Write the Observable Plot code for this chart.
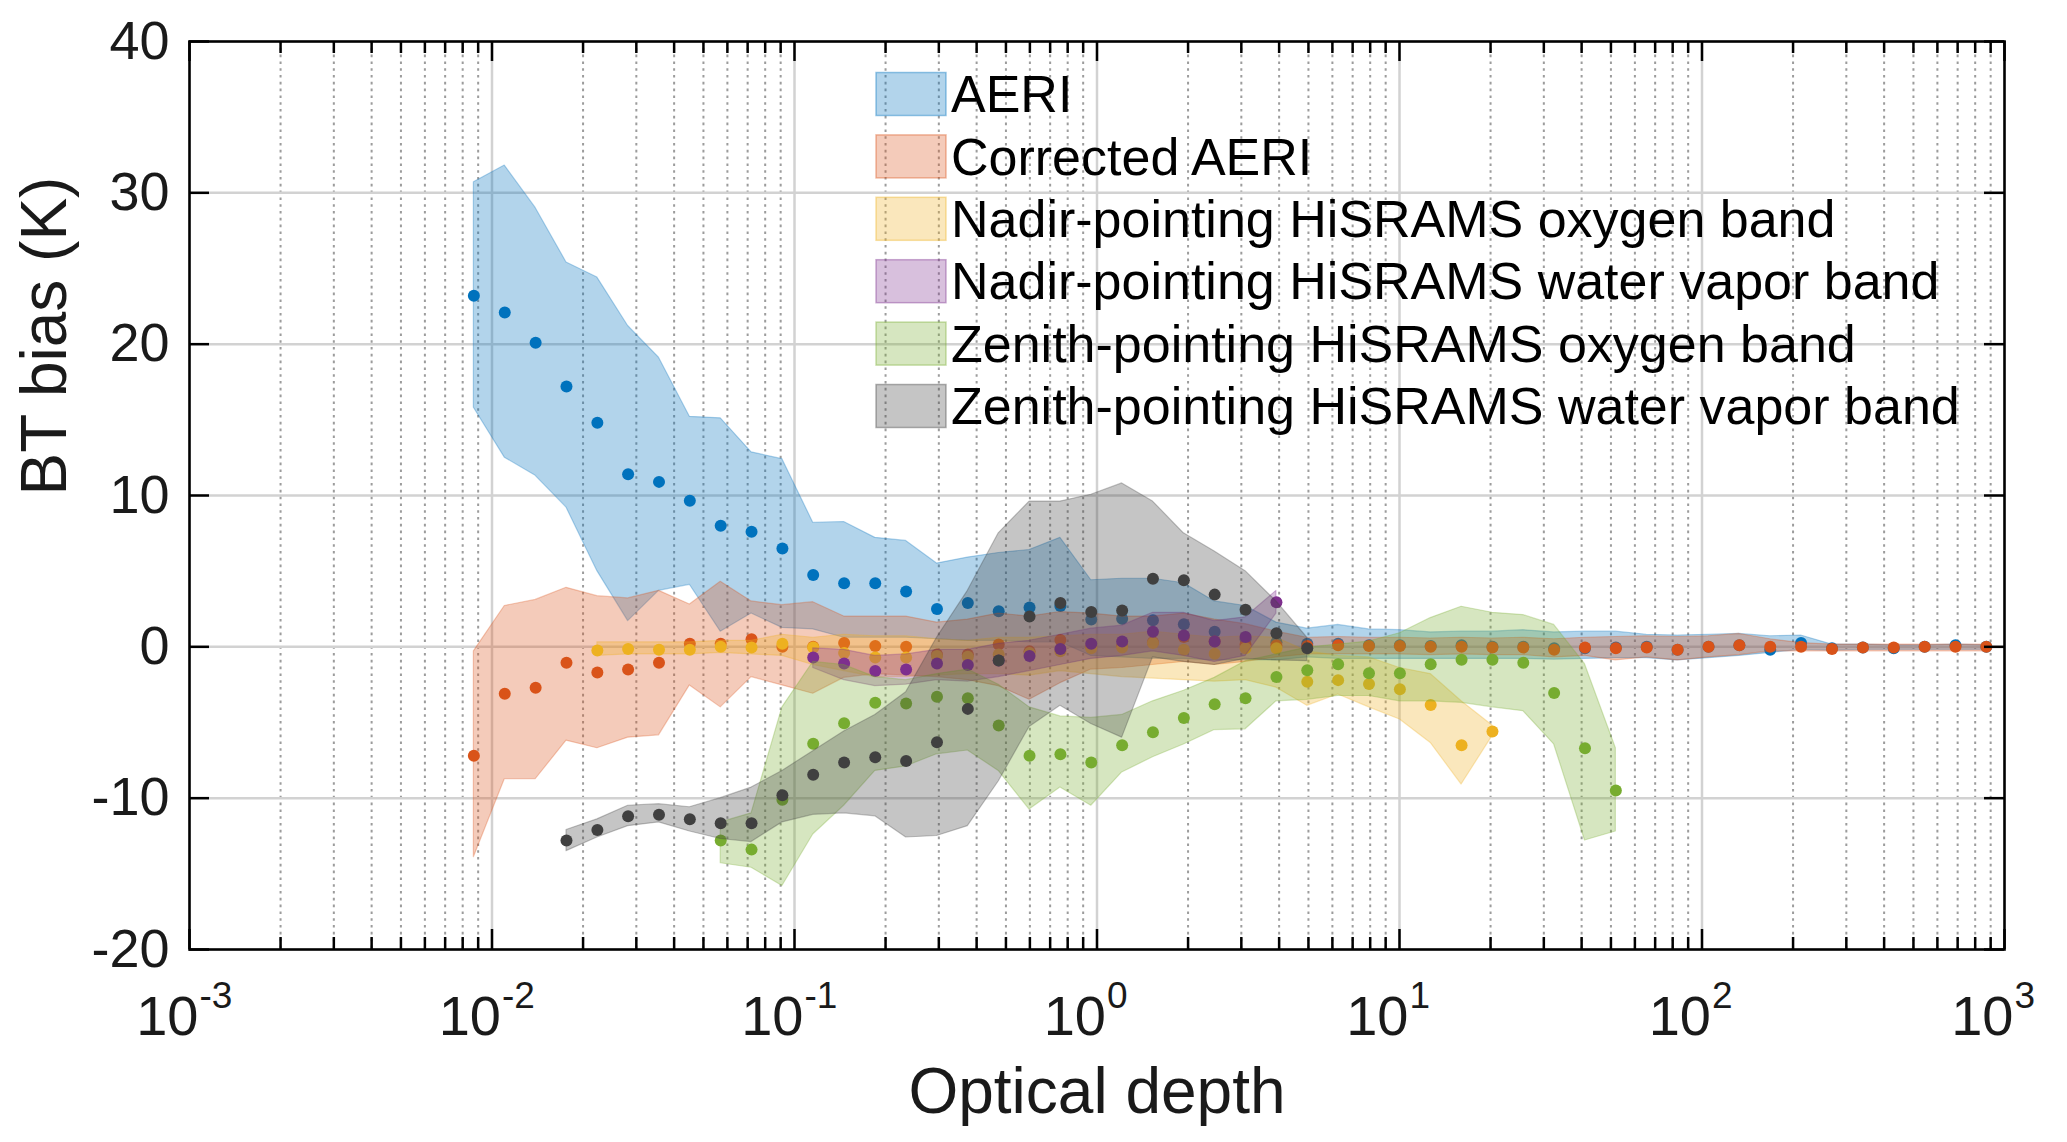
<!DOCTYPE html>
<html>
<head>
<meta charset="utf-8">
<script src="https://cdn.jsdelivr.net/npm/d3@7"></script>
<script src="https://cdn.jsdelivr.net/npm/@observablehq/plot@0.6"></script>
<style>
  html, body { margin: 0; padding: 0; background: #fff; }
  #chart svg { display: block; }
</style>
</head>
<body>
<div id="chart"></div>
<script>
// optical depth bin centres (shared by every series)
const opticalDepth = [0.00871, 0.01102, 0.01394, 0.01763, 0.0223, 0.02818, 0.03565, 0.04508, 0.05702, 0.07211,
  0.0912, 0.1153, 0.1459, 0.1849, 0.2339, 0.2958, 0.3741, 0.4732, 0.5984, 0.7568,
  0.9572, 1.211, 1.531, 1.937, 2.449, 3.098, 3.919, 4.956, 6.268, 7.928,
  10.03, 12.68, 16.04, 20.29, 25.66, 32.45, 41.04, 51.91, 65.66, 83.05,
  105.1, 132.9, 168.1, 212.6, 269.0, 340.3, 430.4, 544.5, 688.7, 871.0];

// AERI (from bin 0)
const aeriMean = [23.2, 22.1, 20.1, 17.2, 14.8, 11.4, 10.9, 9.65, 8.0, 7.6, 6.5, 4.75, 4.2, 4.2, 3.65, 2.5, 2.9, 2.35, 2.6, 2.7,
  1.8, 1.85, 1.75, 1.5, 1.0, 0.5, 0.3, 0.2, 0.2, 0.1, 0.1, 0.05, 0.1, 0.0, 0.0, -0.1, -0.1, -0.05, 0.0, -0.2,
  0.0, 0.1, -0.2, 0.25, -0.1, -0.05, -0.1, 0.0, 0.1, 0.0];
const aeriLow = [15.8, 12.5, 11.3, 9.2, 5.0, 1.7, 3.7, 4.1, 1.0, 2.2, 1.25, 1.15, 0.6, 0.6, 0.6, 0.5, 0.4, 0.4, 0.3, 0.3,
  -0.6, -0.7, -0.8, -0.8, -0.9, -0.9, -0.9, -0.7, -0.8, -0.8, -0.8, -0.8, -0.8, -0.8, -0.8, -0.85, -0.8, -0.75, -0.75, -0.9,
  -0.75, -0.6, -0.4, -0.2, -0.25, -0.2, -0.2, -0.2, -0.2, -0.2];
const aeriHigh = [30.7, 31.8, 29.0, 25.4, 24.4, 21.2, 19.1, 15.2, 15.1, 12.85, 12.4, 8.2, 8.25, 7.2, 7.0, 5.5, 5.9, 6.2, 6.4, 7.2,
  4.4, 4.5, 4.5, 4.2, 3.0, 2.7, 1.6, 1.2, 1.45, 1.15, 1.1, 0.95, 1.0, 1.0, 1.1, 0.95, 1.0, 1.0, 0.8, 0.75,
  0.8, 0.85, 0.7, 0.75, 0.15, 0.15, 0.1, 0.1, 0.15, 0.1];

// Corrected AERI (from bin 0)
const corrMean = [-7.2, -3.1, -2.7, -1.05, -1.7, -1.5, -1.05, 0.2, 0.2, 0.5, 0.0, 0.0, 0.25, 0.05, 0.0, -0.5, -0.5, 0.15, -0.3, 0.45,
  0.0, 0.05, 0.3, 0.65, 0.35, 0.15, 0.1, 0.05, 0.1, 0.05, 0.05, 0.0, 0.0, -0.05, -0.05, -0.2, -0.05, -0.1, -0.05, -0.2,
  0.0, 0.1, 0.0, 0.0, -0.15, -0.05, -0.05, 0.0, 0.0, 0.0];
const corrLow = [-13.9, -8.75, -8.75, -6.2, -6.7, -6.0, -5.85, -2.55, -4.0, -2.0, -2.55, -3.1, -2.05, -1.8, -1.9, -2.0, -2.2, -2.6, -3.5, -2.4,
  -1.5, -1.4, -1.2, -1.0, -1.2, -1.0, -0.7, -0.5, -0.5, -0.5, -0.5, -0.55, -0.5, -0.55, -0.55, -0.7, -0.6, -0.9, -0.7, -0.9,
  -0.7, -0.55, -0.3, -0.3, -0.3, -0.3, -0.3, -0.3, -0.3, -0.3];
const corrHigh = [-0.3, 2.7, 3.1, 3.9, 3.35, 3.2, 3.7, 2.8, 4.3, 3.0, 2.75, 2.95, 2.0, 2.0, 2.0, 1.6, 1.8, 2.2, 2.0, 2.3,
  2.2, 2.0, 2.0, 2.2, 1.8, 1.5, 1.0, 0.6, 0.65, 0.6, 0.6, 0.55, 0.6, 0.55, 0.6, 0.5, 0.6, 0.65, 0.7, 0.65,
  0.7, 0.85, 0.5, 0.25, 0.15, 0.15, 0.15, 0.15, 0.15, 0.15];

// Nadir-pointing HiSRAMS oxygen band (from bin 4)
const nadirO2Mean = [-0.25, -0.15, -0.2, -0.2, 0.0, -0.05, 0.2, -0.05, -0.4, -0.7, -0.7, -0.6, -0.65, -0.5, -0.4, -0.3,
  -0.1, -0.05, 0.25, -0.2, -0.45, -0.1, -0.1, -2.3, -2.2, -2.45, -2.8, -3.85, -6.5, -5.6];
const nadirO2Low = [-0.6, -0.5, -0.5, -0.5, -0.4, -0.5, -0.6, -1.2, -1.6, -2.0, -2.0, -1.9, -1.8, -1.8, -1.9, -1.6,
  -1.8, -2.0, -2.1, -2.2, -2.3, -2.2, -2.7, -3.9, -3.15, -4.0, -4.8, -6.35, -9.1, -5.9];
const nadirO2High = [0.3, 0.3, 0.3, 0.3, 0.4, 0.4, 0.8, 0.6, 0.8, 0.7, 0.7, 0.5, 0.4, 0.6, 0.6, 0.7,
  0.8, 0.8, 1.0, 0.8, 0.6, 0.7, 0.6, -0.3, -0.6, -0.7, -1.4, -1.8, -3.6, -5.2];

// Nadir-pointing HiSRAMS water vapor band (from bin 11)
const nadirWvMean = [-0.7, -1.1, -1.6, -1.5, -1.1, -1.2, -0.9, -0.6, -0.15, 0.2, 0.35, 1.0, 0.75, 0.35, 0.65, 2.95];
const nadirWvLow = [-1.4, -2.2, -2.6, -2.5, -2.2, -2.3, -2.0, -1.6, -1.2, -0.8, -0.6, -0.3, -0.6, -1.0, -0.6, 2.2];
const nadirWvHigh = [-0.1, -0.2, -0.6, -0.5, -0.2, -0.2, 0.2, 0.4, 0.8, 1.2, 1.4, 2.25, 2.25, 1.7, 1.95, 3.7];

// Zenith-pointing HiSRAMS oxygen band (from bin 8)
const zenithO2Mean = [-12.8, -13.4, -10.1, -6.4, -5.05, -3.7, -3.75, -3.3, -3.4, -5.2, -7.2, -7.1, -7.65, -6.5, -5.65,
  -4.7, -3.8, -3.4, -2.0, -1.55, -1.15, -1.75, -1.75, -1.15, -0.85, -0.85, -1.05, -3.05, -6.7, -9.5];
const zenithO2Low = [-14.3, -14.6, -15.8, -12.4, -10.5, -8.2, -7.9, -7.1, -6.85, -8.2, -10.75, -9.3, -10.5, -8.3, -7.3,
  -6.45, -5.5, -5.45, -3.6, -3.5, -3.25, -3.25, -3.6, -3.6, -3.7, -4.0, -4.25, -6.45, -12.8, -12.2];
const zenithO2High = [-11.6, -11.0, -4.0, -1.0, -1.2, -2.0, -2.2, -1.8, -1.5, -2.5, -4.0, -4.6, -4.7, -4.5, -3.6,
  -2.9, -2.05, -0.95, -0.5, -0.05, 0.15, 0.35, 0.9, 1.9, 2.65, 2.25, 2.1, 1.45, -1.15, -6.7];

// Zenith-pointing HiSRAMS water vapor band (from bin 3)
const zenithWvMean = [-12.8, -12.1, -11.2, -11.1, -11.4, -11.65, -11.65, -9.8, -8.45, -7.65, -7.3, -7.55, -6.3,
  -4.1, -0.9, 2.0, 2.9, 2.3, 2.4, 4.5, 4.4, 3.45, 2.45, 0.9, -0.1];
const zenithWvLow = [-13.5, -12.6, -11.85, -11.6, -12.2, -12.7, -12.9, -11.6, -11.1, -11.0, -11.2, -12.6, -12.5,
  -11.85, -8.9, -5.3, -3.9, -5.1, -6.0, -0.7, -1.0, -1.2, -0.8, -0.9, -0.95];
const zenithWvHigh = [-12.1, -11.4, -10.5, -10.4, -10.6, -10.0, -9.3, -8.2, -6.9, -5.6, -4.5, -3.0, 0.6,
  3.7, 7.5, 9.6, 9.6, 10.05, 10.8, 9.6, 7.5, 6.3, 5.0, 3.0, 0.6];

const seriesNames = [
  "AERI",
  "Corrected AERI",
  "Nadir-pointing HiSRAMS oxygen band",
  "Nadir-pointing HiSRAMS water vapor band",
  "Zenith-pointing HiSRAMS oxygen band",
  "Zenith-pointing HiSRAMS water vapor band"
];
const seriesColors = ["#0072BD", "#D95319", "#EDB120", "#7E2F8E", "#77AC30", "#404040"];
const seriesStart = [0, 0, 4, 11, 8, 3];
const seriesMean = [aeriMean, corrMean, nadirO2Mean, nadirWvMean, zenithO2Mean, zenithWvMean];
const seriesLow = [aeriLow, corrLow, nadirO2Low, nadirWvLow, zenithO2Low, zenithWvLow];
const seriesHigh = [aeriHigh, corrHigh, nadirO2High, nadirWvHigh, zenithO2High, zenithWvHigh];

const yTicks = [-20, -10, 0, 10, 20, 30, 40];
const decadeExps = [-3, -2, -1, 0, 1, 2, 3];

// layout (pixels)
const W = 2067, H = 1142;
const ML = 189, MR = 63, MT = 41, MB = 193;
const FONT = "Liberation Sans, Arial, Helvetica, sans-serif";

const decades = decadeExps.map(e => 10 ** e);
const minorTicks = [];
for (const e of decadeExps.slice(0, -1)) for (let m = 2; m <= 9; m++) minorTicks.push(m * 10 ** e);

// tick lengths converted into data units
const yPerPx = 60 / (H - MT - MB);
const xFacPerPx = px => 10 ** (px * 6 / (W - ML - MR));
const majLen = 20 * yPerPx, minLen = 12 * yPerPx;

const marks = [
  Plot.ruleX(minorTicks, {stroke: "#9c9c9c", strokeWidth: 2, strokeDasharray: "2.6,4.2"}),
  Plot.ruleX(decades.slice(1, -1), {stroke: "#d2d2d2", strokeWidth: 2.5}),
  Plot.ruleY(yTicks.slice(1, -1), {stroke: "#d2d2d2", strokeWidth: 2.5})
];

seriesNames.forEach((name, i) => {
  const rows = seriesMean[i].map((m, j) => ({
    x: opticalDepth[seriesStart[i] + j],
    y: m,
    lo: seriesLow[i][j],
    hi: seriesHigh[i][j]
  }));
  marks.push(
    Plot.areaY(rows, {x: "x", y1: "lo", y2: "hi", fill: seriesColors[i], fillOpacity: 0.3,
      stroke: seriesColors[i], strokeOpacity: 0.3, strokeWidth: 1.2}),
    Plot.dot(rows, {x: "x", y: "y", r: 6, fill: seriesColors[i], stroke: "none"})
  );
});

marks.push(
  Plot.frame({stroke: "#000", strokeWidth: 2.6}),
  // ticks drawn inside the box (bottom, top, left, right)
  Plot.ruleX(decades, {y1: -20, y2: -20 + majLen, stroke: "#000", strokeWidth: 2.5}),
  Plot.ruleX(decades, {y1: 40, y2: 40 - majLen, stroke: "#000", strokeWidth: 2.5}),
  Plot.ruleX(minorTicks, {y1: -20, y2: -20 + minLen, stroke: "#000", strokeWidth: 2.5}),
  Plot.ruleX(minorTicks, {y1: 40, y2: 40 - minLen, stroke: "#000", strokeWidth: 2.5}),
  Plot.ruleY(yTicks, {x1: 1e-3, x2: 1e-3 * xFacPerPx(20), stroke: "#000", strokeWidth: 2.5}),
  Plot.ruleY(yTicks, {x1: 1e3 / xFacPerPx(20), x2: 1e3, stroke: "#000", strokeWidth: 2.5}),
  // tick labels
  Plot.text(yTicks, {x: 1e-3, y: d => d, text: d => String(d), textAnchor: "end", dx: -20,
    fontSize: 54, fill: "#1a1a1a"}),
  Plot.text(decadeExps, {x: d => 10 ** d, y: -20, text: () => "10", textAnchor: "end", dx: 9, dy: 68,
    fontSize: 56, fill: "#1a1a1a"}),
  Plot.text(decadeExps, {x: d => 10 ** d, y: -20, text: d => String(d), textAnchor: "start", dx: 10, dy: 47,
    fontSize: 37, fill: "#1a1a1a"}),
  // axis titles
  Plot.text(["Optical depth"], {frameAnchor: "bottom", dy: 163, fontSize: 64, fill: "#1a1a1a"}),
  Plot.text(["BT bias (K)"], {frameAnchor: "left", rotate: -90, dx: -144, fontSize: 64, fill: "#1a1a1a"})
);

const chart = Plot.plot({
  width: W,
  height: H,
  marginLeft: ML,
  marginRight: MR,
  marginTop: MT,
  marginBottom: MB,
  style: {background: "#fff", fontFamily: FONT, overflow: "visible"},
  x: {type: "log", domain: [1e-3, 1e3], axis: null},
  y: {domain: [-20, 40], axis: null},
  marks
});

// legend inside the axes, no box
const legend = d3.select(chart).append("g")
  .attr("font-family", FONT)
  .attr("text-anchor", "start");
seriesNames.forEach((name, i) => {
  const cy = 94 + i * 62.4;
  legend.append("rect")
    .attr("x", 876).attr("y", cy - 21.5).attr("width", 70).attr("height", 43)
    .attr("fill", seriesColors[i]).attr("fill-opacity", 0.3)
    .attr("stroke", seriesColors[i]).attr("stroke-opacity", 0.4).attr("stroke-width", 1.5);
  legend.append("text")
    .attr("x", 951).attr("y", cy).attr("dy", "0.35em")
    .attr("text-anchor", "start")
    .attr("font-size", 52).attr("fill", "#000")
    .text(name);
});

document.getElementById("chart").appendChild(chart);
</script>
</body>
</html>
